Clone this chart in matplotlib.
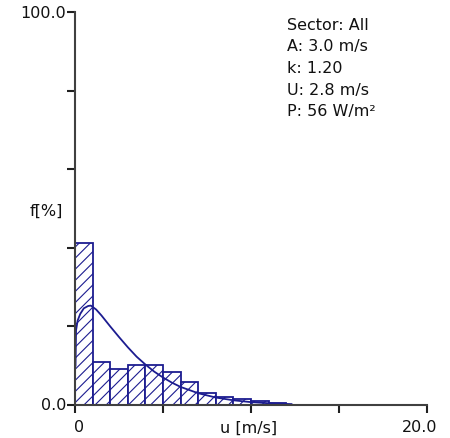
import numpy as np
import matplotlib.pyplot as plt

# histogram of wind speed, 1 m/s bins (percent per bin)
bin_left = [0, 1, 2, 3, 4, 5, 6, 7, 8, 9, 10, 11]
freq = [41.1, 10.9, 9.2, 10.2, 10.2, 8.3, 5.8, 3.1, 2.1, 1.4, 0.9, 0.4]

# fitted curve
u_curve = [0.03, 0.06, 0.15, 0.3, 0.5, 0.75, 0.9, 1.2, 1.5, 2.0, 2.5, 3.0, 3.5,
           4.0, 4.5, 5.0, 5.5, 6.0, 7.0, 8.0, 9.0, 10.0, 11.0, 12.0, 12.3]
f_curve = [10.0, 19.0, 21.5, 23.2, 24.6, 25.2, 25.3, 24.3, 22.8, 20.0, 17.3, 14.7, 12.3,
           10.3, 8.5, 7.0, 5.7, 4.6, 3.0, 1.9, 1.2, 0.73, 0.45, 0.27, 0.23]

stats = ["Sector: All", "A: 3.0 m/s", "k: 1.20", "U: 2.8 m/s", "P: 56 W/m²"]

navy = '#1c1c90'
plt.rcParams['hatch.color'] = navy
plt.rcParams['hatch.linewidth'] = 0.8

W, H = 450, 438
fig = plt.figure(figsize=(W / 100, H / 100), dpi=100)
ax = fig.add_axes([75 / W, 33 / H, 352 / W, 393 / H])

ax.bar(bin_left, freq, width=1.0, align='edge', facecolor='white',
       edgecolor=navy, linewidth=1.3, hatch='///')
ax.plot(u_curve, f_curve, color=navy, linewidth=1.3)

ax.set_xlim(0, 20)
ax.set_ylim(0, 100)
ax.set_xticks([0, 5, 10, 15, 20])
ax.set_yticks([0, 20, 40, 60, 80, 100])
ax.set_xticklabels([])
ax.set_yticklabels([])
for s in ['top', 'right']:
    ax.spines[s].set_visible(False)
for s in ['left', 'bottom']:
    ax.spines[s].set_color('#404040')
    ax.spines[s].set_linewidth(1.5)
ax.tick_params(direction='out', length=6, width=1.5, color='#202020')

fs = 11.5
tc = '#111111'
def px(x, y, s, **kw):
    fig.text(x / W, 1 - y / H, s, fontsize=fs, color=tc, va='center', **kw)

px(66, 14, "100.0", ha='right')
px(66, 405, "0.0", ha='right')
px(46, 211, "f[%]", ha='center')
px(79, 428, "0", ha='center')
px(249, 428, "u [m/s]", ha='center')
px(420, 428, "20.0", ha='center')
for i, line in enumerate(stats):
    px(287, 25 + i * 21.7, line, ha='left')

fig.savefig('out.png', dpi=100)
